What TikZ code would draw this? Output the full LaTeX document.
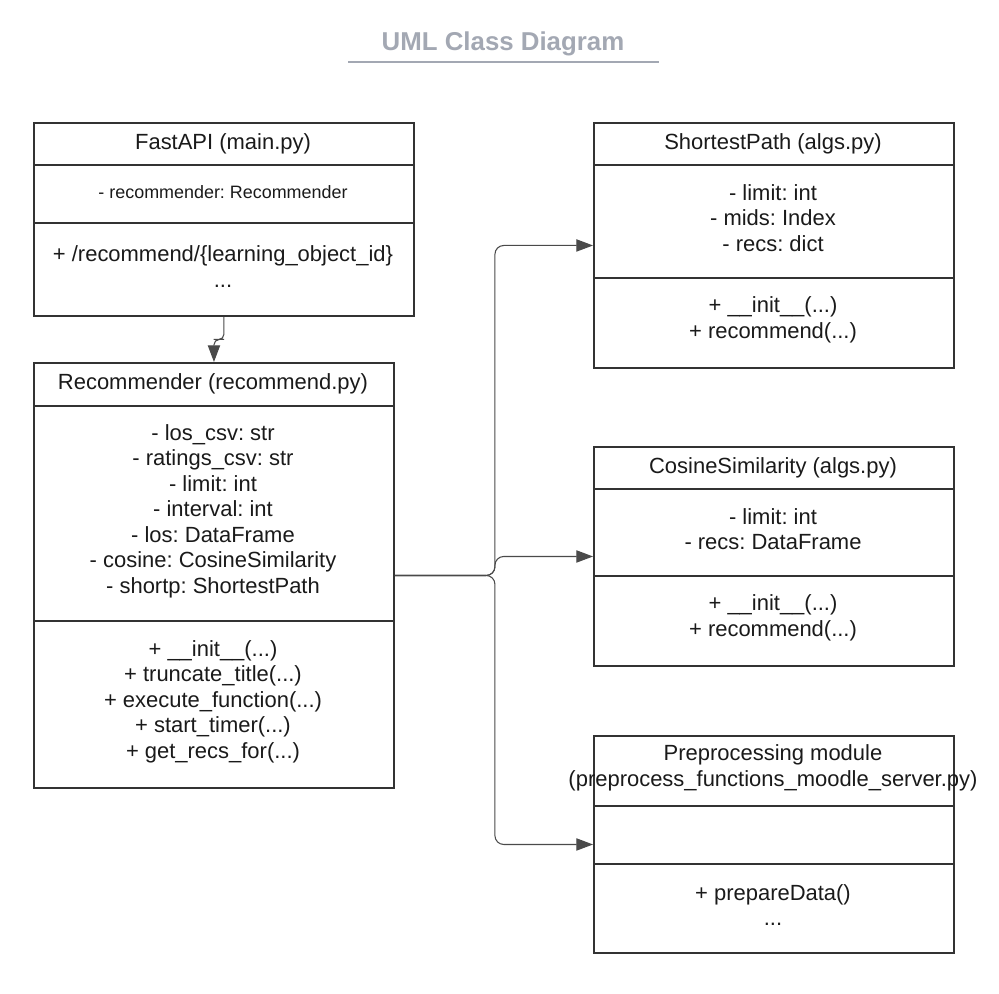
\documentclass[tikz,border=0pt]{standalone}
\usepackage{fontspec}
\setmainfont{Liberation Sans}
\usetikzlibrary{arrows.meta, calc}
\frenchspacing

\definecolor{titlegray}{HTML}{A3A8B3}
\definecolor{boxgray}{HTML}{333333}
\definecolor{linkgray}{HTML}{4A4A4A}
\definecolor{textgray}{HTML}{1A1A1A}

\tikzset{
	classbox/.style = {draw = boxgray, line width = 1.1pt, inner sep = 0, anchor = north west},
	divider/.style = {draw = boxgray, line width = 1.1pt},
	member/.style = {text = textgray, align = center, inner sep = 1pt,
		font = \fontsize{12.5}{14.5}\selectfont},
	smallmember/.style = {member, font = \fontsize{10.2}{12}\selectfont},
	link/.style = {draw = linkgray, line width = 0.6pt, rounded corners = 5pt,
		-{Triangle[length = 9.5pt, width = 7pt]}}
}

\begin{document}
\begin{tikzpicture}

	\useasboundingbox (0, 0) rectangle (19.98, -19.86);

	% Title

	\node [text = titlegray, font = \fontsize{14.7}{17}\selectfont\bfseries] (title) at (10.06, -0.88) {UML Class Diagram};
	\draw [titlegray, line width = 1.1pt] (6.96, -1.24) -- (13.18, -1.24);

	% FastAPI

	\node [classbox, minimum width = 7.6cm, minimum height = 3.86cm] (fast) at (0.66, -2.44) {};
	\foreach \y in {-3.30, -4.46}
		\draw [divider] (fast.west |- 0, \y) -- (fast.east |- 0, \y);
	\node [member] (fast-name) at (4.46, -2.87) {FastAPI (main.py)};
	\node [smallmember] (fast-attr) at (4.46, -3.84) {- recommender: Recommender};
	\node [member] (fast-ops) at (4.46, -5.33) {+ /recommend/\{learning\_object\_id\}\\...};

	% Recommender

	\node [classbox, minimum width = 7.2cm, minimum height = 8.5cm] (rec) at (0.66, -7.24) {};
	\foreach \y in {-8.12, -12.42}
		\draw [divider] (rec.west |- 0, \y) -- (rec.east |- 0, \y);
	\node [member] (rec-name) at (4.26, -7.68) {Recommender (recommend.py)};
	\node [member] (rec-attr) at (4.26, -10.22) {- los\_csv: str\\- ratings\_csv: str\\- limit: int\\- interval: int\\- los: DataFrame\\- cosine: CosineSimilarity\\- shortp: ShortestPath};
	\node [member] (rec-ops) at (4.26, -14.03) {+ \_\_init\_\_(...)\\+ truncate\_title(...)\\+ execute\_function(...)\\+ start\_timer(...)\\+ get\_recs\_for(...)};

	% ShortestPath

	\node [classbox, minimum width = 7.2cm, minimum height = 4.9cm] (sp) at (11.86, -2.44) {};
	\foreach \y in {-3.30, -5.56}
		\draw [divider] (sp.west |- 0, \y) -- (sp.east |- 0, \y);
	\node [member] (sp-name) at (15.46, -2.87) {ShortestPath (algs.py)};
	\node [member] (sp-attr) at (15.46, -4.36) {- limit: int\\- mids: Index\\- recs: dict};
	\node [member] (sp-ops) at (15.46, -6.40) {+ \_\_init\_\_(...)\\+ recommend(...)};

	% CosineSimilarity

	\node [classbox, minimum width = 7.2cm, minimum height = 4.38cm] (cs) at (11.86, -8.92) {};
	\foreach \y in {-9.78, -11.52}
		\draw [divider] (cs.west |- 0, \y) -- (cs.east |- 0, \y);
	\node [member] (cs-name) at (15.46, -9.35) {CosineSimilarity (algs.py)};
	\node [member] (cs-attr) at (15.46, -10.58) {- limit: int\\- recs: DataFrame};
	\node [member] (cs-ops) at (15.46, -12.36) {+ \_\_init\_\_(...)\\+ recommend(...)};

	% Preprocessing module

	\node [classbox, minimum width = 7.2cm, minimum height = 4.34cm] (pre) at (11.86, -14.70) {};
	\foreach \y in {-16.12, -17.28}
		\draw [divider] (pre.west |- 0, \y) -- (pre.east |- 0, \y);
	\node [member] (pre-name) at (15.46, -15.36) {Preprocessing module\\(preprocess\_functions\_moodle\_server.py)};
	\node [member] (pre-ops) at (15.46, -18.10) {+ prepareData()\\...};

	% Links

	\draw [link, rounded corners = 3pt] (fast.south) |- ($(fast.south)!0.5!(rec.north)$) -| (rec.north);

	\draw [link] (rec.east) -- ++(2, 0) |- (sp.west);
	\draw [link] (rec.east) -- ++(2, 0) |- (cs.west);
	\draw [link] (rec.east) -- ++(2, 0) |- (pre.west);

\end{tikzpicture}
\end{document}
